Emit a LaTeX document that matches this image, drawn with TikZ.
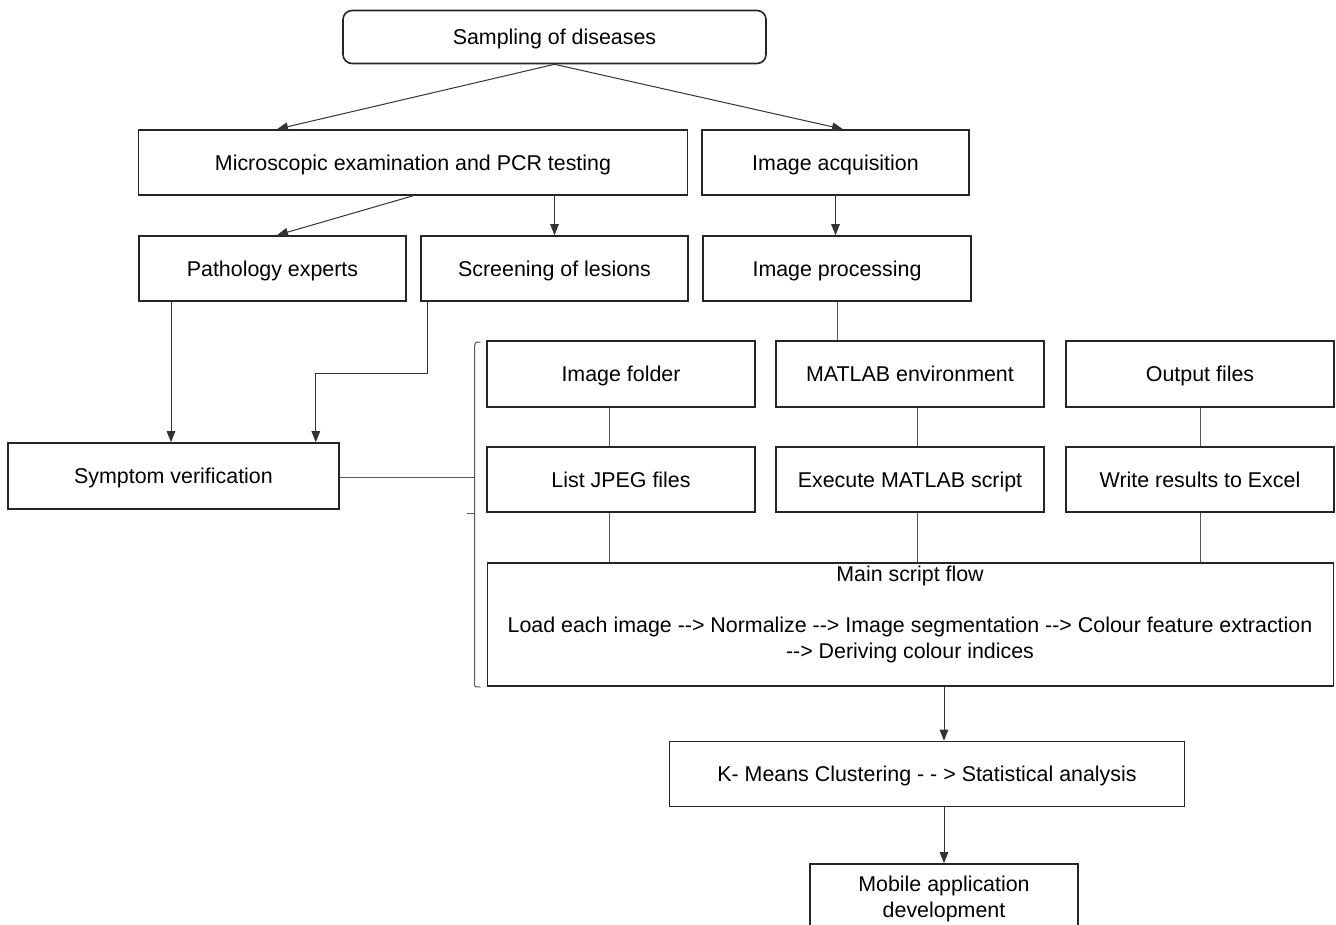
\documentclass[tikz,border=0pt]{standalone}
\usepackage{fontspec}
\setmainfont{Liberation Sans}
\usetikzlibrary{arrows.meta}
\begin{document}
\begin{tikzpicture}[x=1pt,y=-1pt,
  boxbase/.style={draw=black!85, line width=1.6pt, inner sep=2pt, align=center,
    font=\fontsize{21.4}{25.5}\selectfont},
  box/.style={boxbase, text height=15.3pt, text depth=0pt},
  txt/.style={inner sep=0pt, align=center, font=\fontsize{21.4}{25.5}\selectfont},
  arr/.style={draw=black!80, line width=1pt, -{Triangle[length=11pt,width=8.5pt]}},
  conn/.style={draw=black!65, line width=1pt}]
\clip (0,0) rectangle (1336,924);
\fill[white] (0,0) rectangle (1336,924);

% boxes
\node[box, rounded corners=9pt, minimum width=423pt, minimum height=53pt] (samp) at (554.5,37) {Sampling of diseases};
\node[box, minimum width=549pt, minimum height=65pt] (micro) at (413,162.5) {Microscopic examination and PCR testing};
\node[box, minimum width=267pt, minimum height=65pt] (acq) at (835.5,162.5) {Image acquisition};
\node[box, minimum width=267pt, minimum height=65pt] (path) at (272.5,268.5) {Pathology experts};
\node[box, minimum width=267pt, minimum height=65pt] (screen) at (554.5,268.5) {Screening of lesions};
\node[box, minimum width=268pt, minimum height=65pt] (proc) at (837,268.5) {Image processing};
\node[box, minimum width=331pt, minimum height=66pt] (symp) at (173.5,476) {Symptom verification};
\node[box, minimum width=268pt, minimum height=66pt] (folder) at (621,374) {Image folder};
\node[box, minimum width=268pt, minimum height=66pt] (env) at (910,374) {MATLAB environment};
\node[box, minimum width=268pt, minimum height=66pt] (out) at (1200,374) {Output files};
\node[box, minimum width=268pt, minimum height=65pt] (jpeg) at (621,479.5) {List JPEG files};
\node[box, minimum width=268pt, minimum height=65pt] (exec) at (910,479.5) {Execute MATLAB script};
\node[box, minimum width=268pt, minimum height=65pt] (write) at (1200,479.5) {Write results to Excel};
\node[box, minimum width=846pt, minimum height=123pt] (main) at (910.5,624.5) {};
\node[txt] (maintxt) at (910,614.5) {Main script flow\\[25.5pt]
  Load each image -{}-{}> Normalize -{}-{}> Image segmentation -{}-{}> Colour feature extraction\\
  -{}-{}> Deriving colour indices};
\node[box, minimum width=515pt, minimum height=65pt] (kmeans) at (927,774) {K- Means Clustering - - > Statistical analysis};
\node[boxbase, minimum width=268pt, minimum height=70pt] (mobile) at (944,899) {Mobile application\\development};

% connectors
\draw[arr] (samp.south) -- ([xshift=4.5pt]path.north |- micro.north);
\draw[arr] (samp.south) -- ([xshift=7.5pt]acq.north);
\draw[arr] (micro.south) -- ([xshift=4.5pt]path.north);
\draw[arr] (micro.south -| screen.north) -- (screen.north);
\draw[arr] (acq.south) -- (acq.south |- proc.north);
\draw[conn] (proc.south) -- (proc.south |- env.north);
\draw[arr] ([xshift=-2.5pt]symp.north |- path.south) -- ([xshift=-2.5pt]symp.north);
\draw[arr] ([xshift=7.6pt]screen.south west) -- ++(0,72) -| ([xshift=-24pt]symp.north east);

\coordinate (brk) at (474.6,477);
\draw[conn] (symp.east |- brk) -- (brk);
\draw[conn] (480.5,342) .. controls (475.5,342) .. (474.6,346) -- (474.6,683)
  .. controls (474.6,687) .. (480.5,687);
\draw[conn] (474.6,513) -- (466.5,513);

\draw[conn] ([xshift=-12pt]folder.south) -- ([xshift=-12pt]jpeg.north);
\draw[conn] ([xshift=-12pt]jpeg.south) -- ([xshift=-12pt]jpeg.south |- main.north);
\draw[conn] ([xshift=7pt]env.south) -- ([xshift=7pt]exec.north);
\draw[conn] ([xshift=7pt]exec.south) -- ([xshift=7pt]exec.south |- main.north);
\draw[conn] (out.south) -- (write.north);
\draw[conn] (write.south) -- (write.south |- main.north);

\draw[arr] (main.south -| mobile.north) -- (kmeans.north -| mobile.north);
\draw[arr] (kmeans.south -| mobile.north) -- (mobile.north);
\end{tikzpicture}
\end{document}
